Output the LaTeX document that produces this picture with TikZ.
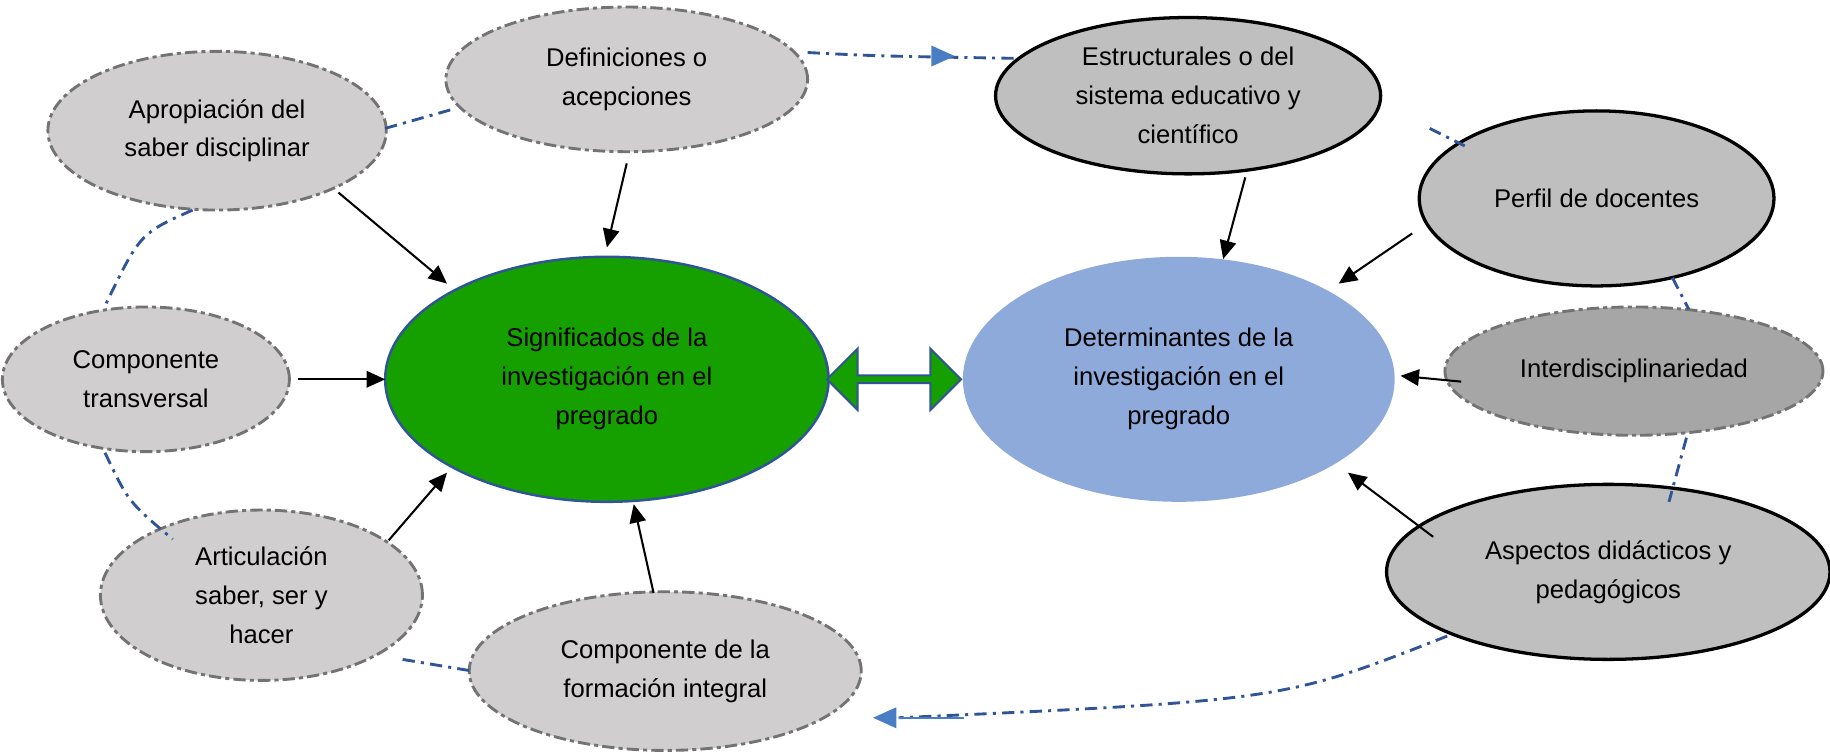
\documentclass[tikz,border=0pt]{standalone}
\usepackage{fontspec}
\setmainfont{Liberation Sans}
\usetikzlibrary{shapes.geometric,shapes.arrows,arrows.meta}
\definecolor{lg}{HTML}{D0CECE}
\definecolor{mg}{HTML}{BFBFBF}
\definecolor{dg}{HTML}{A6A6A6}
\definecolor{lnk}{HTML}{2F5597}
\definecolor{arr}{HTML}{4A7EC4}
\definecolor{grn}{HTML}{16A000}
\definecolor{blu}{HTML}{8EAADB}
\begin{document}
\begin{tikzpicture}[x=0.02cm,y=-0.02cm,
  el/.style={ellipse,inner sep=0pt,align=center,font=\fontsize{12.5}{19}\selectfont},
  dash el/.style={el,draw=gray!90!black,fill=lg,line width=1.4pt,dash pattern=on 6pt off 2pt on 2pt off 2pt},
  sol el/.style={el,draw=black,fill=mg,line width=1.6pt},
  blk/.style={-{Triangle[length=9pt,width=8pt]},line width=1pt},
  lk/.style={draw=lnk,line width=1.4pt,dash pattern=on 6pt off 3pt on 1.5pt off 3pt}]
\useasboundingbox (0,0) rectangle (1568,645);
\node[dash el,minimum width=290\pgflinewidth,minimum width=5.8cm,minimum height=2.72cm] (apr) at (186,112) {Apropiación del\\saber disciplinar};
\node[dash el,minimum width=6.2cm,minimum height=2.48cm] (def) at (537,68) {Definiciones o\\acepciones};
\node[dash el,minimum width=4.92cm,minimum height=2.48cm] (tra) at (125,325) {Componente\\transversal};
\node[dash el,minimum width=5.52cm,minimum height=2.92cm] (art) at (224,510) {Articulación\\saber, ser y\\hacer};
\node[dash el,minimum width=6.72cm,minimum height=2.72cm] (for) at (570,575) {Componente de la\\formación integral};
\node[el,draw=lnk,line width=1.2pt,fill=grn,minimum width=7.6cm,minimum height=4.2cm] (sig) at (520,325) {Significados de la\\investigación en el\\pregrado};
\node[el,fill=blu,minimum width=7.4cm,minimum height=4.2cm] (det) at (1010,325) {Determinantes de la\\investigación en el\\pregrado};
\node[sol el,minimum width=6.6cm,minimum height=2.68cm] (est) at (1018,82) {Estructurales o del\\sistema educativo y\\científico};
\node[sol el,minimum width=6.08cm,minimum height=3.0cm] (per) at (1368,170) {Perfil de docentes};
\node[dash el,fill=dg,minimum width=6.48cm,minimum height=2.2cm] (int) at (1400,318) {Interdisciplinariedad};
\node[sol el,minimum width=7.6cm,minimum height=3.0cm] (asp) at (1378,490) {Aspectos didácticos y\\pedagógicos};
% black arrows
\draw[blk] (290,165) -- (383,243);
\draw[blk] (537,140) -- (520,212);
\draw[blk] (255,325) -- (330,325);
\draw[blk] (333,463) -- (383,405);
\draw[blk] (560,508) -- (543,432);
\draw[blk] (1067,152) -- (1048,222);
\draw[blk] (1210,200) -- (1147,243);
\draw[blk] (1252,327) -- (1200,322);
\draw[blk] (1228,460) -- (1155,405);
\node[double arrow,draw=lnk,fill=grn,line width=1pt,minimum width=1.05cm,double arrow head extend=0.12cm,minimum height=2.3cm,inner sep=0pt] (dbl) at (766,325) {};
% dash-dot links
\draw[lk] (692,45) .. controls (750,48) .. (870,50);
\fill[arr] (818,48) -- (798,39) -- (798,57) -- cycle;
\draw[lk] (330,110) -- (390,93);
\draw[lk] (165,180) .. controls (120,200) .. (90,262);
\draw[lk] (90,388) .. controls (110,430) .. (148,462);
\draw[lk] (345,565) -- (405,575);
\draw[lk] (1225,110) -- (1255,125);
\draw[lk] (1433,238) -- (1447,265);
\draw[lk] (1445,375) -- (1430,430);
\draw[lk] (1240,545) .. controls (1100,600) .. (770,615);
\draw[arr,line width=1.2pt] (770,615) -- (826,615);
\fill[arr] (748,615) -- (768,606) -- (768,624) -- cycle;
\end{tikzpicture}
\end{document}
